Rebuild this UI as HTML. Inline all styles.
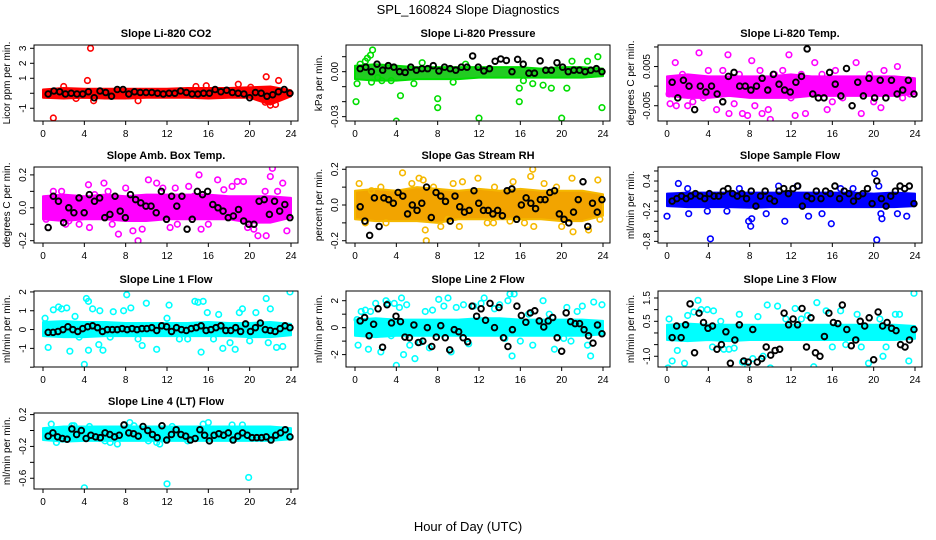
<!DOCTYPE html>
<html><head><meta charset="utf-8"><style>
body{margin:0;background:#fff;}
svg{display:block;font-family:"Liberation Sans",sans-serif;}
</style></head><body>
<svg id="chart" width="936" height="540" viewBox="0 0 936 540" xmlns="http://www.w3.org/2000/svg">
<rect width="936" height="540" fill="#fff"/>
<text x="468" y="14" text-anchor="middle" font-size="13">SPL_160824  Slope Diagnostics</text>
<text x="468" y="531" text-anchor="middle" font-size="13">Hour of Day (UTC)</text>
<g id="panels"></g>
</svg>
<script>
const xTicks=[0,4,8,12,16,20,24];
const bandHours=[0,2,4,6,8,10,12,14,16,18,20,22,24];

const co2BandHi=[0.25,0.35,0.3,0.3,0.3,0.3,0.3,0.35,0.35,0.35,0.4,0.45,0.2];
const co2BandLo=[-0.3,-0.35,-0.3,-0.35,-0.35,-0.3,-0.3,-0.3,-0.35,-0.3,-0.3,-0.75,-0.2];
const co2Out=[[4.6,3.0],[1.0,-1.65],[4.3,0.85],[21.6,1.1],[22.8,0.85],[18.9,0.6],[4.9,-0.5],[3.2,-0.35],[9.2,-0.5],[22,-0.8],[22.5,-0.75],[21.5,-0.6],[14.8,0.45],[15.8,0.5],[20.1,0.4],[2,0.45]];
const co2Black=[-0.05,0.15,0.1,-0.05,0,-0.05,-0.05,0.1,-0.3,0.15,0.05,-0.2,0.25,0.25,-0.05,0.1,0.05,0.05,0.05,0,-0.05,0,0,0.15,0.05,-0.05,-0.05,0,0,0.25,0.1,0.2,0.05,0,-0.05,-0.3,0.05,0,-0.2,-0.1,0.1,0.25,0];

const presBandHi=[0.004,0.005,0.004,0.003,0.003,0.003,0.003,0.003,0.003,0.002,0.003,0.003,0.002];
const presBandLo=[-0.005,-0.006,-0.006,-0.005,-0.005,-0.005,-0.004,-0.004,-0.004,-0.004,-0.004,-0.004,-0.003];
const presOut=[[0.1,-0.02],[1.7,0.0145],[1.5,0.011],[0.5,0.005],[1.6,-0.007],[4,-0.033],[4.4,-0.016],[8,-0.024],[8,-0.018],[12,-0.031],[15.9,-0.011],[15.9,-0.02],[20,-0.031],[23.9,-0.024],[23.5,0.01],[22.5,0.007],[21,0.007],[3.5,-0.006],[2.6,-0.006],[5.7,-0.008],[9.5,-0.007],[16.3,-0.006],[17.2,-0.008],[18.2,-0.009],[19,-0.011],[20.5,-0.011],[0.2,-0.008],[1,0.007],[6.5,0.006],[10.7,0.005],[1.2,0.009],[2.2,-0.004]];
const presBlack=[0.002,0.003,0,0.005,0.001,0.004,0.003,0,-0.0005,0.003,0.001,0.002,0.002,0.004,0.0005,0.003,0.002,0.001,0.003,0.003,0.0105,0.003,0.0005,0.002,0.007,0.0085,0.0075,0,0.0082,0.005,-0.001,-0.001,0.0072,0.001,0.001,0.006,0.003,0,0.001,0.001,0,0.001,0.002,0];

const tempBandHi=[0.0025,0.003,0.0025,0.0025,0.0025,0.0025,0.003,0.0025,0.0025,0.0025,0.0025,0.0025,0.002];
const tempBandLo=[-0.0025,-0.003,-0.003,-0.0025,-0.003,-0.003,-0.003,-0.0025,-0.0025,-0.0025,-0.0025,-0.0025,-0.002];
const tempOut=[[0.2,-0.002],[0.3,-0.0045],[0.8,0.006],[0.9,-0.005],[2.5,-0.004],[3.1,0.0085],[3.5,-0.003],[4.8,-0.006],[5.4,0.004],[5.9,0.008],[6,-0.007],[6.5,-0.0045],[7.3,-0.007],[7.8,-0.0075],[8.2,0.0065],[8.5,-0.005],[9.2,-0.007],[9.8,-0.006],[10,-0.0085],[10.4,0.003],[11.2,0.004],[11.8,0.008],[12.4,-0.0075],[13.4,-0.007],[14.3,0.006],[15,0.003],[15.5,-0.006],[16.3,0.004],[17,-0.003],[18.3,0.006],[18.8,-0.007],[19.6,0.003],[20.7,-0.0055],[22.3,0.005],[22.8,-0.003],[23.5,-0.002],[1.5,0.003],[2,-0.005],[4,0.004],[12,-0.003],[13,0.003],[16,-0.004],[20,-0.004],[21,0.004],[7,0.003],[9,0.004]];
const tempBlack=[0.001,-0.003,0.0015,0,-0.006,0,-0.0015,0,-0.002,-0.004,0.0025,0.0035,0,0,-0.001,0,0.002,-0.001,0.003,0.0005,-0.001,-0.0015,0.001,0.0025,0.0095,-0.002,-0.003,-0.003,0.0035,0.0005,-0.0025,0.0045,-0.005,0.001,-0.0025,0.002,-0.003,0.0015,-0.003,0.0015,-0.002,-0.001,0.0015,-0.002];

const ambBandHi=[0.07,0.08,0.07,0.08,0.07,0.08,0.08,0.08,0.08,0.07,0.07,0.07,0.06];
const ambBandLo=[-0.07,-0.08,-0.07,-0.07,-0.08,-0.08,-0.07,-0.07,-0.07,-0.07,-0.09,-0.09,-0.06];
const ambOut=[[0.5,-0.12],[1,0.1],[1.8,0.1],[2.2,-0.1],[3.5,-0.1],[4.4,0.14],[4.5,-0.12],[5.9,0.15],[6.7,-0.1],[7.3,-0.16],[8,0.12],[8.7,-0.14],[9.2,-0.2],[9.6,-0.13],[10.2,0.17],[11,0.15],[11.6,0.12],[12.8,0.12],[13,-0.1],[14.1,0.13],[15.1,0.2],[15.3,-0.13],[16,-0.1],[16.9,0.17],[17.5,0.11],[18.3,0.13],[18.8,0.16],[19.4,0.16],[20.4,-0.13],[20.8,-0.17],[21.6,-0.17],[21.5,0.1],[22,0.19],[22.2,0.24],[22.7,0.1],[23.2,0.15],[23.6,-0.14],[0.3,-0.07],[2.5,-0.08],[5,0.08],[6.3,0.1],[12.3,-0.12],[14.6,0.07],[19.8,-0.12]];
const ambBlack=[-0.12,0.07,0.04,-0.09,0,-0.03,0.06,-0.03,0.08,0.04,0.06,-0.06,-0.04,0.07,-0.02,-0.06,0.08,0.05,0.03,0.01,0.01,-0.03,0.1,-0.07,0.07,0.01,0.07,-0.13,-0.07,0.1,0.08,0.1,0.02,0,-0.02,-0.06,-0.05,-0.01,-0.08,-0.1,-0.1,0.04,0.05,-0.04,0.04,-0.02,0.02,-0.06];

const rhBandHi=[0.08,0.09,0.08,0.1,0.09,0.08,0.09,0.08,0.09,0.08,0.08,0.08,0.06];
const rhBandLo=[-0.08,-0.09,-0.09,-0.09,-0.1,-0.08,-0.08,-0.08,-0.08,-0.08,-0.09,-0.09,-0.06];
const rhOut=[[0.4,0.12],[1,-0.1],[2.5,0.1],[3,-0.1],[4.6,0.18],[5.5,0.12],[6.2,0.15],[6.6,0.14],[6.9,-0.2],[6.8,-0.14],[7.6,0.1],[8.3,-0.12],[9.5,0.12],[10.1,-0.12],[10.4,0.13],[11.9,0.15],[12.8,-0.1],[13.5,0.1],[13.4,-0.1],[15.3,0.13],[16.4,-0.1],[17,0.16],[17.2,0.2],[17.3,-0.12],[18.3,0.12],[19.5,0.1],[20,-0.12],[21,0.15],[21.1,-0.15],[22.6,-0.14],[23.5,0.14],[23.7,-0.08],[1.6,0.08],[9,-0.08],[15,-0.09]];
const rhBlack=[-0.01,-0.09,-0.17,0.04,-0.12,0.04,0.03,0.01,0.07,0.05,-0.05,0,-0.03,0.01,0.1,-0.07,0.07,0.05,0.02,-0.09,0.05,-0.01,-0.04,-0.03,0.08,0.01,-0.03,-0.03,-0.05,-0.03,-0.06,0.08,0.09,-0.08,0,0.04,0.01,-0.02,0.03,0.03,0.07,0.08,-0.05,-0.08,-0.1,-0.04,0.03,0.13,-0.12,0.01,-0.04,0.03];

const sfBandHi=[0.15,0.17,0.17,0.17,0.17,0.17,0.17,0.17,0.17,0.17,0.15,0.17,0.15];
const sfBandLo=[-0.1,-0.12,-0.12,-0.12,-0.13,-0.12,-0.12,-0.12,-0.12,-0.12,-0.12,-0.12,-0.1];
const sfOut=[[0,-0.3],[1.1,0.35],[1.8,0],[2.1,-0.25],[3.9,-0.2],[4.2,-0.75],[4.6,0],[5.8,-0.2],[7.9,-0.4],[8.1,-0.5],[8.2,-0.35],[9.6,-0.25],[11.4,-0.4],[12,-0.9],[12.6,0.3],[13.7,-0.3],[15,-0.25],[15.9,-0.45],[16.8,0.25],[20.1,0.55],[20.3,-0.77],[20.5,0.3],[20.7,-0.25],[20.8,-0.35],[22.3,-0.25],[23.2,-0.3],[23,0.25],[2,0.25],[7,0.25],[10.8,0.3],[18,0.25]];
const sfBlack=[0,0.05,0.1,0.05,0.1,0.15,0.1,0.05,0.15,0.1,0.1,0.2,0.25,0.15,0.1,0.15,0.05,0.2,-0.1,0.1,0.2,0.05,0,0.2,0.25,0.15,0.25,0.3,-0.1,0.1,0.05,0.2,0.05,0.2,0.15,0.3,0.05,0.2,0.15,0,0.1,0.15,0.25,-0.05,0.4,0.05,-0.1,0.1,0.2,0.3,0.25,0.3,-0.05];

const l1BandHi=[0.4,0.45,0.4,0.4,0.35,0.35,0.35,0.35,0.4,0.35,0.35,0.4,0.3];
const l1BandLo=[-0.35,-0.4,-0.4,-0.35,-0.35,-0.35,-0.35,-0.35,-0.35,-0.35,-0.4,-0.4,-0.3];
const l1Out=[[0.2,0.6],[0.5,-0.95],[1,1.05],[1.5,1.2],[1.8,1.1],[2.3,1.15],[2.6,-1.15],[3.1,0.7],[4,-1.85],[4.2,1.65],[4.4,1.5],[4.4,-1.1],[4.8,1.1],[5.4,-0.8],[5.5,1],[5.8,-1.1],[6.8,0.95],[7.8,1],[8.1,1.85],[8.5,1.15],[9.2,-0.5],[9.6,-0.85],[10,1.4],[11,-1.05],[12.2,1.3],[13.2,-0.5],[14.7,1.5],[15,1.45],[15.3,-1.2],[15.5,1.5],[15.9,0.9],[16.5,-0.5],[17,0.8],[17.4,-1],[18.1,-0.7],[18.6,-1.05],[19,0.9],[19.3,1.1],[20.6,0.9],[21.6,1.65],[21.8,-0.7],[22,1.1],[22.6,-0.95],[23.2,-0.9],[23.9,2],[3.5,-0.4],[6.5,-0.4],[12,0.6],[14,-0.5],[20,-0.6]];
const l1Black=[-0.15,-0.15,-0.1,0,0.15,0,-0.1,0.05,0.15,0.2,0.1,-0.1,0,0,0,0.05,0,0.05,0,0.05,0.05,0.1,-0.05,0.2,0.15,-0.1,0.1,0,-0.05,0.05,0.1,0.2,-0.05,0,0.1,0.2,-0.05,-0.05,0.1,-0.1,0.3,-0.1,0.1,0.35,0,-0.05,-0.1,0.05,0.2,0.1];

const l2BandHi=[0.6,0.7,0.6,0.6,0.6,0.6,0.7,0.7,0.6,0.6,0.6,0.6,0.5];
const l2BandLo=[-0.6,-0.7,-0.6,-0.6,-0.6,-0.6,-0.6,-0.6,-0.6,-0.6,-0.6,-0.6,-0.5];
const l2Out=[[0.2,0.6],[0.3,-1.3],[0.6,1.2],[1,1.3],[1.3,-1.6],[1.5,1.2],[2,1.8],[2.5,-1.8],[3,2],[3.2,1.8],[3.5,-0.6],[3.8,1.8],[4,-2.8],[4.3,1.5],[4.5,2.2],[4.7,-2],[5,1.7],[5.3,-1.3],[5.8,-2.3],[6.3,-1.1],[6.8,1.2],[7.2,-1.5],[7.5,1.3],[8.1,2.1],[8.6,1.6],[9,2.2],[9.3,-1.8],[9.8,1.5],[10.5,1.7],[11,-1.2],[11.5,1.6],[12.2,1.8],[12.5,2.2],[13.5,1.4],[14,1.7],[14.5,-0.8],[14.8,2],[15,2.5],[15.2,-2.1],[15.4,2.5],[16,-1],[16.8,1],[17.2,-1.3],[18.2,2],[18.8,1],[19.3,-1.6],[20.2,-0.8],[20.5,1.5],[20.9,-1],[21.5,1.2],[22,1.6],[22.5,-1.3],[22.8,-2.1],[23.1,1.9],[23.9,1.7]];
const l2Black=[0.5,0.75,-0.6,0.25,1.4,-1.45,1.7,0.35,0.85,0.45,-0.7,-0.75,0.2,-1.1,-1.0,0,-1.4,-0.7,0.15,-0.75,-1.65,-0.15,-0.3,-0.75,-1.05,1.6,0.85,1.4,0.55,1.8,0,1.5,-0.75,-1.4,-0.15,1.6,0.9,0.4,1.1,1.25,0.5,0.05,0.5,0.75,-0.75,-1.75,1.1,0.45,0.3,0.3,-0.15,-0.6,-1.15,0.2,-0.45];

const l3BandHi=[0.35,0.4,0.35,0.35,0.35,0.35,0.35,0.35,0.35,0.35,0.35,0.35,0.3];
const l3BandLo=[-0.3,-0.35,-0.3,-0.35,-0.3,-0.3,-0.3,-0.3,-0.3,-0.3,-0.3,-0.3,-0.25];
const l3Out=[[0.1,-1.5],[0.2,0.6],[0.5,-1.2],[1,-0.75],[1.7,-1.3],[2,0.75],[2.6,0.9],[3,1.4],[3.3,1],[3.9,1],[4.5,0.95],[4.4,-0.6],[5.2,0.5],[5.5,-0.7],[6,-0.7],[6.5,-0.65],[7,0.8],[7.3,-1.25],[7.8,-1.45],[8.3,-1.1],[8.8,0.7],[9.3,-1],[9.7,1.2],[10,-1.5],[10.7,1.15],[11.5,0.6],[12.4,1.05],[13,0.6],[13.6,0.75],[14.2,-1.45],[14.5,1.3],[15.4,0.95],[16,-0.6],[16.8,0.95],[17.3,-0.5],[18.4,0.8],[18.8,-0.6],[19.5,-1.3],[20.6,0.6],[20.9,-1],[21.2,-0.6],[22.1,0.8],[22.5,0.8],[23.4,-1.2],[23.9,1.7]];
const l3Black=[-0.2,0.3,-0.2,0.35,1.25,-0.85,0.85,0.45,0.2,0.3,-0.7,-0.5,0.05,-1.3,-0.3,0.35,-1.2,-1.25,0.15,-1.25,-1.1,-0.6,-0.95,-0.75,-0.7,0.85,0.35,0.6,0.35,1.05,-0.6,0.65,-0.85,-1.0,-0.15,0.85,0.45,0.4,1.2,0.15,-0.55,-0.3,0.5,0.3,0.65,-1.15,0.9,0.3,0.45,0.2,0.1,-0.5,-0.6,-0.3,0.15];

const l4BandHi=[0.03,0.05,0.05,0.05,0.05,0.05,0.05,0.05,0.05,0.05,0.05,0.05,0.03];
const l4BandLo=[-0.12,-0.14,-0.13,-0.13,-0.13,-0.13,-0.13,-0.13,-0.13,-0.13,-0.13,-0.13,-0.11];
const l4Out=[[4,-0.72],[12,-0.67],[19.9,-0.59],[0.8,0.08],[1.3,-0.15],[2.8,0.06],[4.5,0.05],[6,-0.13],[6.5,-0.15],[7.2,-0.17],[8.4,0.1],[8.8,0.06],[10.2,-0.13],[11,-0.15],[11.3,-0.17],[12.5,0.05],[14,-0.13],[15.5,0.08],[16,0.1],[18.3,0.07],[19.3,0.07],[3,0.06]];
const l4Black=[-0.07,-0.03,-0.08,-0.1,-0.11,0.02,-0.05,0,-0.1,-0.06,-0.08,-0.09,-0.03,-0.05,-0.08,-0.06,0.07,-0.03,-0.04,-0.07,0.05,0,-0.05,-0.09,0.06,-0.12,-0.05,0.01,-0.05,-0.07,-0.12,-0.1,0.01,-0.06,-0.13,-0.06,-0.04,-0.06,-0.03,-0.12,-0.07,-0.03,-0.06,-0.09,-0.09,-0.09,-0.08,-0.12,-0.06,-0.03,0.01,-0.08];

const panels=[
 {name:'li820-co2',title:'Slope Li-820 CO2',ylab:'Licor ppm per min.',col:0,row:0,ymin:-1.85,ymax:3.22,ticks:[-1,0,1,2,3],labels:['-1','','1','2','3'],color:'#ff0000',fill:'#ff0000',hi:co2BandHi,lo:co2BandLo,out:co2Out,blk:co2Black},
 {name:'li820-pressure',title:'Slope Li-820 Pressure',ylab:'kPa per min.',col:1,row:0,ymin:-0.0329,ymax:0.0178,ticks:[-0.03,-0.02,-0.01,0,0.01],labels:['-0.03','','','0.00',''],color:'#00dd00',fill:'#22cc22',hi:presBandHi,lo:presBandLo,out:presOut,blk:presBlack},
 {name:'li820-temp',title:'Slope Li-820 Temp.',ylab:'degrees C per min.',col:2,row:0,ymin:-0.0089,ymax:0.0105,ticks:[-0.005,0,0.005,0.01],labels:['-0.005','','0.005',''],color:'#ff00ff',fill:'#ff00ff',hi:tempBandHi,lo:tempBandLo,out:tempOut,blk:tempBlack},
 {name:'amb-box-temp',title:'Slope Amb. Box Temp.',ylab:'degrees C per min.',col:0,row:1,ymin:-0.214,ymax:0.248,ticks:[-0.2,-0.1,0,0.1,0.2],labels:['-0.2','','0.0','','0.2'],color:'#ff00ff',fill:'#ff00ff',hi:ambBandHi,lo:ambBandLo,out:ambOut,blk:ambBlack},
 {name:'gas-stream-rh',title:'Slope Gas Stream RH',ylab:'percent per min.',col:1,row:1,ymin:-0.2127,ymax:0.2127,ticks:[-0.2,-0.1,0,0.1,0.2],labels:['-0.2','','0.0','','0.2'],color:'#f5b800',fill:'#f2a400',hi:rhBandHi,lo:rhBandLo,out:rhOut,blk:rhBlack},
 {name:'sample-flow',title:'Slope Sample Flow',ylab:'ml/min per min.',col:2,row:1,ymin:-0.833,ymax:0.679,ticks:[-0.8,-0.6,-0.4,-0.2,0,0.2,0.4,0.6],labels:['-0.8','','','-0.2','','','0.4',''],color:'#0000ff',fill:'#0000ff',hi:sfBandHi,lo:sfBandLo,out:sfOut,blk:sfBlack},
 {name:'line1-flow',title:'Slope Line 1 Flow',ylab:'ml/min per min.',col:0,row:2,ymin:-1.99,ymax:2.05,ticks:[-2,-1,0,1,2],labels:['','-1','0','1','2'],color:'#00ffff',fill:'#00ffff',hi:l1BandHi,lo:l1BandLo,out:l1Out,blk:l1Black},
 {name:'line2-flow',title:'Slope Line 2 Flow',ylab:'ml/min per min.',col:1,row:2,ymin:-2.92,ymax:2.72,ticks:[-2,-1,0,1,2],labels:['-2','','0','','2'],color:'#00ffff',fill:'#00ffff',hi:l2BandHi,lo:l2BandLo,out:l2Out,blk:l2Black},
 {name:'line3-flow',title:'Slope Line 3 Flow',ylab:'ml/min per min.',col:2,row:2,ymin:-1.46,ymax:1.8,ticks:[-1,-0.5,0,0.5,1,1.5],labels:['-1.0','','','0.5','','1.5'],color:'#00ffff',fill:'#00ffff',hi:l3BandHi,lo:l3BandLo,out:l3Out,blk:l3Black},
 {name:'line4-lt-flow',title:'Slope Line 4 (LT) Flow',ylab:'ml/min per min.',col:0,row:3,ymin:-0.735,ymax:0.22,ticks:[-0.6,-0.4,-0.2,0,0.2],labels:['-0.6','','-0.2','','0.2'],color:'#00ffff',fill:'#00ffff',hi:l4BandHi,lo:l4BandLo,out:l4Out,blk:l4Black}
];

const NS='http://www.w3.org/2000/svg';
const root=document.getElementById('panels');
function mk(tag,attrs,parent){const e=document.createElementNS(NS,tag);for(const k in attrs)e.setAttribute(k,attrs[k]);parent.appendChild(e);return e;}
const colLeft=[34,346,658], rowTop=[45,167,291,413], W=264, H=76;

panels.forEach(p=>{
 const L=colLeft[p.col], T=rowTop[p.row], B=T+H;
 const g=mk('g',{},root);
 
 
 const xs=h=>L+9+h*(248/24);
 const ys=v=>T+(p.ymax-v)/(p.ymax-p.ymin)*H;
 const t=mk('text',{x:L+W/2,y:T-8,'text-anchor':'middle','font-size':11,'font-weight':'bold'},g);
 t.textContent=p.title;
 
 
 const yl=mk('text',{x:0,y:0,transform:`translate(${L-24},${T+H/2}) rotate(-90)`,'text-anchor':'middle','font-size':10},g);
 yl.textContent=p.ylab;
 
 
 const clip='clip-'+p.name;
 const cp=mk('clipPath',{id:clip},g); mk('rect',{x:L,y:T,width:W,height:H},cp);
 const pg=mk('g',{'clip-path':`url(#${clip})`},g);
 let pts=bandHours.map((h,i)=>xs(h)+','+ys(p.hi[i]));
 pts=pts.concat(bandHours.slice().reverse().map((h,i)=>xs(h)+','+ys(p.lo[p.lo.length-1-i])));
 const band=mk('polygon',{points:pts.join(' '),fill:p.fill,stroke:p.color,'stroke-width':2,'stroke-linejoin':'round'},pg);
 
 
 p.out.forEach(d=>{
  const c=mk('circle',{cx:xs(d[0]),cy:ys(d[1]),r:2.8,fill:'none',stroke:p.color,'stroke-width':1.6},pg);
  
  
 });
 const n=p.blk.length;
 p.blk.forEach((v,i)=>{
  const c=mk('circle',{cx:xs(0.5+i*23.4/(n-1)),cy:ys(v),r:2.8,fill:'none',stroke:'#000','stroke-width':1.9},pg);
  
  
 });
 const fr=mk('rect',{x:L,y:T,width:W,height:H,fill:'none',stroke:'#000','stroke-width':1},g);
 
 
 xTicks.forEach(h=>{
  mk('line',{x1:xs(h),x2:xs(h),y1:B,y2:B+4,stroke:'#000'},g);
  const tx=mk('text',{x:xs(h),y:B+16,'text-anchor':'middle','font-size':10},g);
  tx.textContent=h;
  
  
 });
 p.ticks.forEach((v,i)=>{
  const y=ys(v);
  mk('line',{x1:L-4,x2:L,y1:y,y2:y,stroke:'#000'},g);
  if(p.labels[i]){
   const tx=mk('text',{x:0,y:0,transform:`translate(${L-8},${y}) rotate(-90)`,'text-anchor':'middle','font-size':10},g);
   tx.textContent=p.labels[i];
   
   
  }
 });
});
</script>
</body></html>
